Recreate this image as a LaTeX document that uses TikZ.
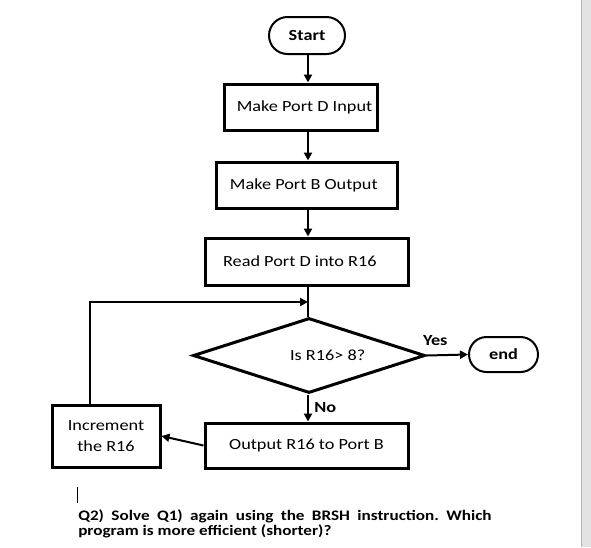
\documentclass[tikz,border=0pt]{standalone}
\usepackage{fontspec}
\setmainfont{Carlito}[FakeStretch=1.18]
\usepackage{tikz}
\usetikzlibrary{positioning,shapes.geometric,shapes.misc,arrows.meta,calc}

\begin{document}
\begin{tikzpicture}[x=0.75pt, y=-0.75pt, >={Triangle[length=6pt,width=6pt]},
  font=\fontsize{11.6}{13}\selectfont,
  box/.style={draw, line width=2.25pt, rectangle, inner sep=0pt},
  term/.style={draw, line width=1.5pt, rounded rectangle, inner sep=0pt, font=\fontsize{11.6}{13}\selectfont\bfseries},
  flow/.style={->, line width=1.5pt},
  lbl/.style={font=\fontsize{11.6}{13}\selectfont\bfseries, inner sep=0pt}]

\useasboundingbox (0,0) rectangle (591,547);

% Page edge on the right
\fill[gray!22] (581,0) rectangle (591,547);
\draw[gray!60, line width=0.75pt] (581,0) -- (581,547);

% Terminals
\node[term, minimum width=57pt, minimum height=27.75pt] (start) at (307,35.5) {Start};
\node[term, minimum width=51.75pt, minimum height=26.25pt] (stop) at (503.5,354.5) {end};

% Process boxes
\node[box, minimum width=114.75pt, minimum height=34.5pt] (portd) at (300.5,107) {\hspace*{6pt}Make Port D Input};
\node[box, minimum width=135.75pt, minimum height=34.5pt] (portb) at (306.5,185) {Make Port B Output\hspace*{4pt}};
\node[box, minimum width=152.25pt, minimum height=35.25pt] (read) at (306.5,261.5) {Read Port D into R16\hspace*{10pt}};
\node[box, minimum width=152.25pt, minimum height=33.75pt] (out) at (306.5,445.5) {Output R16 to Port B};
\node[box, minimum width=81pt, minimum height=46.5pt, align=center,
  font=\fontsize{11.6}{16}\selectfont] (inc) at (106,436) {Increment\\the R16};

% Decision
\node[draw, diamond, line width=2.25pt, inner sep=0pt, aspect=3.1,
  minimum width=174pt, minimum height=56.25pt] (test) at (309,355.5) {\hspace*{28pt}Is R16> 8?};

% Main flow
\coordinate (spine) at (308,0);
\draw[flow] (start.south -| spine) -- (portd.north -| spine);
\draw[flow] (portd.south -| spine) -- (portb.north -| spine);
\draw[flow] (portb.south -| spine) -- (read.north -| spine);
\draw[line width=1.5pt] (read.south -| spine) -- (test.north -| spine);
\draw[flow] (test.south -| spine) -- (out.north -| spine) node[lbl, midway, right=4pt] {No};
\draw[flow] (test.east) -- (stop.west) node[lbl, midway, above=6pt, xshift=-9pt] {Yes};
\draw[flow] (out.west) -- (inc.east);

% Loop back
\coordinate (corner) at (90,302);
\coordinate (join) at (308,302);
\draw[flow] (inc.north -| corner) -- (corner) -- (join);

% Text cursor and question
\draw[line width=0.75pt] (77,487) -- (77,503);
\node[anchor=north west, inner sep=0pt, text width=310pt, align=justify,
  font=\fontsize{10.9}{11}\selectfont\bfseries\frenchspacing] (q2) at (78,509.5)
  {Q2) Solve Q1) again using the BRSH instruction. Which\linebreak program is more efficient (shorter)?};

\end{tikzpicture}
\end{document}
